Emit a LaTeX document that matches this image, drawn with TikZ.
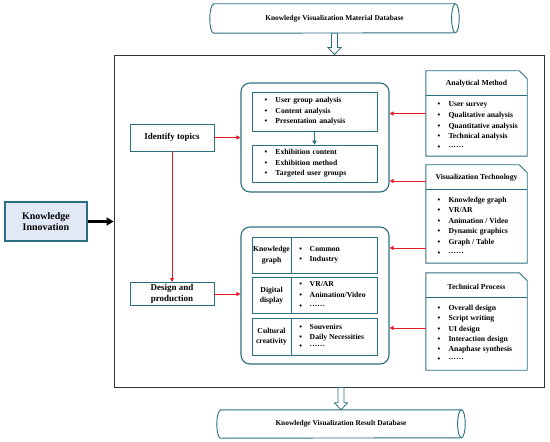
\documentclass[tikz,border=0pt]{standalone}
\usepackage{fontspec}
\setmainfont{Liberation Serif}
\usetikzlibrary{arrows.meta,calc}
\definecolor{tealb}{HTML}{2A6F7F}
\definecolor{redl}{HTML}{E41E26}
\definecolor{kifill}{HTML}{E1E9F6}
\newcommand{\bi}{\makebox[11bp][l]{\textbullet}}
\newcommand{\bj}{\makebox[10.5bp][l]{\textbullet}}
\begin{document}
\begin{tikzpicture}[x=1bp,y=-1bp,
  every node/.style={font=\bfseries\fontsize{7.7}{10.6}\selectfont, inner sep=0pt},
  tbox/.style={draw=tealb, line width=0.9bp, rectangle},
  tline/.style={draw=tealb, line width=0.9bp},
  gbox/.style={draw=tealb, line width=1.1bp, rounded corners=9bp, rectangle},
  dbline/.style={draw=tealb, line width=0.9bp},
  dbtext/.style={font=\bfseries\fontsize{7.4}{9}\selectfont},
  bigtext/.style={font=\bfseries\fontsize{9}{10.7}\selectfont, align=center},
  lst/.style={align=left, anchor=west},
  ra/.style={draw=redl, line width=0.8bp, -{Triangle[length=4bp,width=4bp]}},
  hollow/.style={draw=tealb, line width=0.8bp, fill=white},
]
\useasboundingbox (0,0) rectangle (550,442);

% databases
\node[dbtext, minimum width=249bp, minimum height=29bp] (db1) at (334.5,18.5) {Knowledge Visualization Material Database};
\draw[dbline] ([xshift=3.8bp]db1.north west) -- ([xshift=-3.8bp]db1.north east)
  arc[start angle=90, end angle=-90, x radius=3.8bp, y radius=14.5bp]
  -- ([xshift=3.8bp]db1.south west)
  arc[start angle=270, end angle=90, x radius=3.8bp, y radius=14.5bp] -- cycle;
\draw[dbline] ([xshift=-3.8bp]db1.north east) arc[start angle=90, end angle=270, x radius=3.8bp, y radius=14.5bp];

\node[dbtext, minimum width=248bp, minimum height=28bp] (db2) at (341,424) {Knowledge Visualization Result Database};
\draw[dbline] ([xshift=3.8bp]db2.north west) -- ([xshift=-3.8bp]db2.north east)
  arc[start angle=90, end angle=-90, x radius=3.8bp, y radius=14bp]
  -- ([xshift=3.8bp]db2.south west)
  arc[start angle=270, end angle=90, x radius=3.8bp, y radius=14bp] -- cycle;
\draw[dbline] ([xshift=-3.8bp]db2.north east) arc[start angle=90, end angle=270, x radius=3.8bp, y radius=14bp];

% main frame
\node[draw=black!80, line width=0.8bp, minimum width=430bp, minimum height=332bp] (main) at (329,221) {};

% hollow arrows
\draw[hollow] ([xshift=-3bp]db1.south) -- ([xshift=-3bp,yshift=7bp]db1.south |- main.north)
  -- ([xshift=-6.5bp,yshift=7bp]db1.south |- main.north) -- (db1.south |- main.north)
  -- ([xshift=6.5bp,yshift=7bp]db1.south |- main.north) -- ([xshift=3bp,yshift=7bp]db1.south |- main.north)
  -- ([xshift=3bp]db1.south) -- cycle;
\draw[hollow] ([xshift=-3bp]db2.north |- main.south) -- ([xshift=-3bp,yshift=7bp]db2.north)
  -- ([xshift=-6.5bp,yshift=7bp]db2.north) -- (db2.north)
  -- ([xshift=6.5bp,yshift=7bp]db2.north) -- ([xshift=3bp,yshift=7bp]db2.north)
  -- ([xshift=3bp]db2.north |- main.south) -- cycle;

% knowledge innovation
\node[tbox, line width=1.1bp, fill=kifill, minimum width=82bp, minimum height=39bp, align=center,
  font=\bfseries\fontsize{10}{11.7}\selectfont] (ki) at (46,221.5) {Knowledge\\Innovation};
\draw[line width=2.6bp, -{Triangle[length=7bp,width=8bp]}] (ki.east) -- (ki.east -| main.west);

% left steps
\node[tbox, bigtext, minimum width=84bp, minimum height=27bp] (it) at (172,137.5) {Identify topics};
\node[tbox, bigtext, minimum width=84bp, minimum height=23bp] (dp) at (172,294) {Design and\\production};

% group 1
\node[gbox, minimum width=148bp, minimum height=109bp] (g1) at (315,137.5) {};
\node[tbox, minimum width=125bp, minimum height=39bp, text width=100bp, inner xsep=12.5bp, align=left] (g1a) at (314.5,111.5)
  {\bi User group analysis\\ \bi Content analysis\\ \bi Presentation analysis};
\node[tbox, minimum width=125bp, minimum height=37bp, text width=100bp, inner xsep=12.5bp, align=left] (g1b) at (314.5,163.5)
  {\bi Exhibition content\\ \bi Exhibition method\\ \bi Targeted user groups};
\draw[tline, -{Triangle[length=4bp,width=4.5bp]}] (g1a.south) -- (g1b.north);

% group 2
\node[gbox, minimum width=148bp, minimum height=137bp] (g2) at (315,295.5) {};
\node[tbox, minimum width=125bp, minimum height=36bp] (r1) at (314.5,255) {};
\node[tbox, minimum width=125bp, minimum height=36bp] (r2) at (314.5,295) {};
\node[tbox, minimum width=125bp, minimum height=37bp] (r3) at (314.5,336.5) {};
\foreach \r in {r1,r2,r3}{
  \draw[tline] ([xshift=40bp]\r.north west) -- ([xshift=40bp]\r.south west);
}
\node[align=center] (r1l) at ([xshift=20bp]r1.west) {Knowledge\\graph};
\node[align=center] (r2l) at ([xshift=20bp,yshift=-0.5bp]r2.west) {Digital\\display};
\node[align=center] (r3l) at ([xshift=20bp]r3.west) {Cultural\\creativity};
\node[lst] (r1i) at ([xshift=47.5bp]r1.west) {\bj Common\\ \bj Industry};
\node[lst] (r2i) at ([xshift=47.5bp]r2.west) {\bj VR/AR\\ \bj Animation/Video\\ \bj ······};
\node[lst, font=\bfseries\fontsize{7.7}{9.8}\selectfont] (r3i) at ([xshift=47.5bp]r3.west) {\bj Souvenirs\\ \bj Daily Necessities\\ \bj ······};

% right boxes
\node[minimum width=101bp, minimum height=85bp] (am) at (476.5,113.5) {};
\node[minimum width=101bp, minimum height=98bp] (vt) at (476.5,214) {};
\node[minimum width=101bp, minimum height=97bp] (tp) at (476.5,321.5) {};
\foreach \b in {am,vt,tp}{
  \draw[tline] (\b.south west) -- (\b.north west) -- ([xshift=-8bp]\b.north east)
    -- ([yshift=-8bp]\b.north east) -- (\b.south east) -- cycle;
  \draw[tline] ([yshift=-24.5bp]\b.north west) -- ([yshift=-24.5bp]\b.north east);
}
\node (amt) at ([yshift=-13bp]am.north) {Analytical Method};
\node (vtt) at ([yshift=-13bp]vt.north) {Visualization Technology};
\node (tpt) at ([yshift=-14bp]tp.north) {Technical Process};
\node[lst] (ami) at ([xshift=11.5bp,yshift=-12bp]am.west)
  {\bi User survey\\ \bi Qualitative analysis\\ \bi Quantitative analysis\\ \bi Technical analysis\\ \bi ······};
\node[lst] (vti) at ([xshift=11.5bp,yshift=-12bp]vt.west)
  {\bi Knowledge graph\\ \bi VR/AR\\ \bi Animation / Video\\ \bi Dynamic graphics\\ \bi Graph / Table\\ \bi ······};
\node[lst, font=\bfseries\fontsize{7.7}{10.2}\selectfont] (tpi) at ([xshift=11.5bp,yshift=-12bp]tp.west)
  {\bi Overall design\\ \bi Script writing\\ \bi UI design\\ \bi Interaction design\\ \bi Anaphase synthesis\\ \bi ······};

% red connectors
\draw[ra] (it.east) -- (it.east -| g1.west);
\draw[ra] (dp.east) -- (dp.east -| g2.west);
\draw[ra] (it.south) -- (dp.north);
\draw[ra] (am.west) -- (am.west -| g1.east);
\draw[ra] (vt.west |- 0,181) -- (g1.east |- 0,181);
\draw[ra] (vt.west |- 0,248) -- (g2.east |- 0,248);
\draw[ra] (tp.west |- 0,328) -- (g2.east |- 0,328);
\end{tikzpicture}
\end{document}
